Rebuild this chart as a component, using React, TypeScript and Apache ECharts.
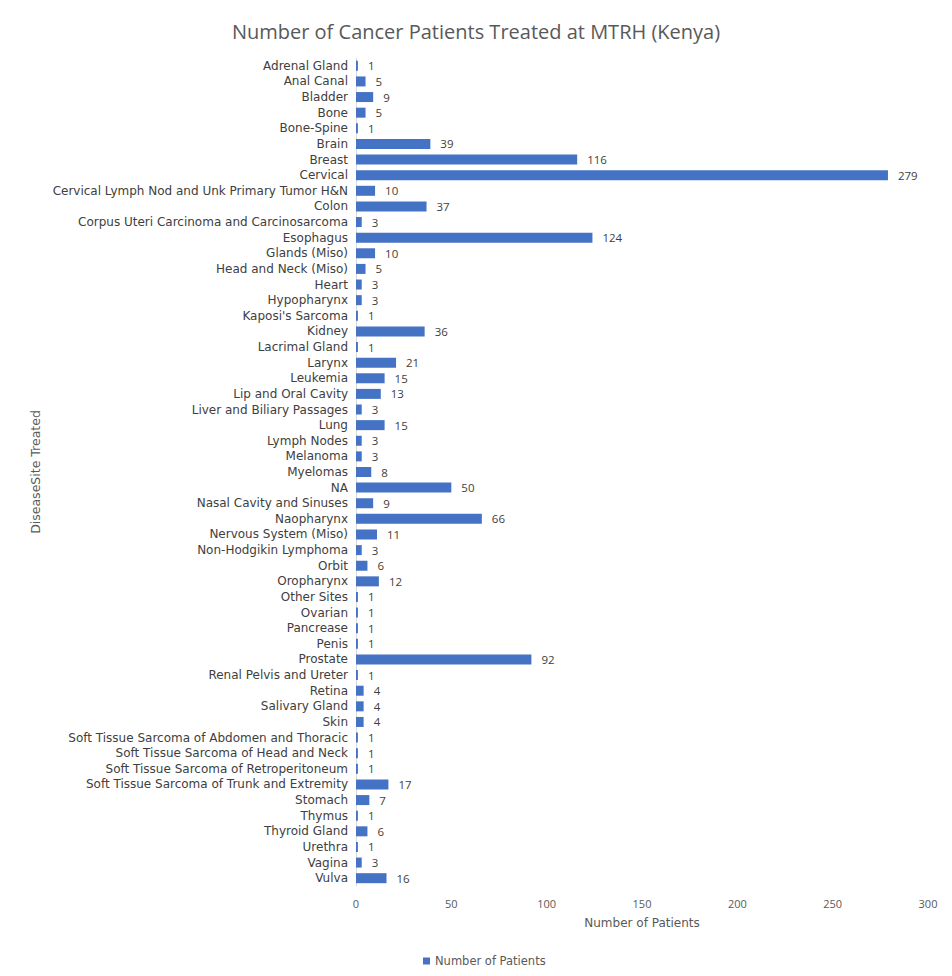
import React, { useEffect, useRef } from "react";
import * as echarts from "echarts";

const categories = [
  "Adrenal Gland", "Anal Canal", "Bladder", "Bone", "Bone-Spine", "Brain", "Breast", "Cervical",
  "Cervical Lymph Nod and Unk Primary Tumor H&N", "Colon", "Corpus Uteri Carcinoma and Carcinosarcoma",
  "Esophagus", "Glands (Miso)", "Head and Neck (Miso)", "Heart", "Hypopharynx", "Kaposi's Sarcoma",
  "Kidney", "Lacrimal Gland", "Larynx", "Leukemia", "Lip and Oral Cavity", "Liver and Biliary Passages",
  "Lung", "Lymph Nodes", "Melanoma", "Myelomas", "NA", "Nasal Cavity and Sinuses", "Naopharynx",
  "Nervous System (Miso)", "Non-Hodgikin Lymphoma", "Orbit", "Oropharynx", "Other Sites", "Ovarian",
  "Pancrease", "Penis", "Prostate", "Renal Pelvis and Ureter", "Retina", "Salivary Gland", "Skin",
  "Soft Tissue Sarcoma of Abdomen and Thoracic", "Soft Tissue Sarcoma of Head and Neck",
  "Soft Tissue Sarcoma of Retroperitoneum", "Soft Tissue Sarcoma of Trunk and Extremity", "Stomach",
  "Thymus", "Thyroid Gland", "Urethra", "Vagina", "Vulva",
];

const patients = [
  1, 5, 9, 5, 1, 39, 116, 279, 10, 37, 3, 124, 10, 5, 3, 3, 1, 36, 1, 21, 15, 13, 3, 15, 3, 3, 8, 50,
  9, 66, 11, 3, 6, 12, 1, 1, 1, 1, 92, 1, 4, 4, 4, 1, 1, 1, 17, 7, 1, 6, 1, 3, 16,
];

const xTicks = [0, 50, 100, 150, 200, 250, 300];

export default function App() {
  const ref = useRef<HTMLDivElement>(null);
  useEffect(() => {
    const chart = echarts.init(ref.current!, null, { renderer: "svg" });
    const font = "'Open Sans', 'Liberation Sans', sans-serif";
    const wide = "'DejaVu Sans', 'Open Sans', sans-serif";
    chart.setOption({
      animation: false,
      backgroundColor: "#ffffff",
      textStyle: { fontFamily: font },
      title: {
        text: "Number of Cancer Patients Treated at MTRH (Kenya)",
        left: "center",
        top: 16,
        textStyle: { fontSize: 20, fontWeight: "normal", color: "#595959", fontFamily: font },
      },
      graphic: [
        {
          type: "rect",
          shape: { x: 5, y: 7, width: 960, height: 990 },
          style: { fill: "none", stroke: "#d9d9d9", lineWidth: 2 },
          silent: true,
        },
      ],
      legend: {
        bottom: 4,
        left: 418,
        itemWidth: 7,
        itemHeight: 7,
        itemGap: 4,
        icon: "rect",
        textStyle: { fontSize: 11.5, color: "#595959", fontFamily: wide },
        data: ["Number of Patients"],
      },
      grid: { left: 356, right: 24, top: 58, bottom: 90, containLabel: false },
      xAxis: {
        type: "value",
        min: xTicks[0],
        max: xTicks[xTicks.length - 1],
        interval: 50,
        name: "Number of Patients",
        nameLocation: "middle",
        nameGap: 31,
        nameTextStyle: { fontSize: 12, color: "#595959", fontFamily: wide },
        axisLine: { show: false },
        axisTick: { show: false },
        splitLine: { show: false },
        axisLabel: { fontSize: 11, color: "#595959", margin: 12 },
      },
      yAxis: {
        type: "category",
        data: categories,
        inverse: true,
        name: "DiseaseSite Treated",
        nameLocation: "middle",
        nameGap: 314,
        nameRotate: 90,
        nameTextStyle: { fontSize: 12.5, color: "#595959", fontFamily: wide },
        axisLine: { show: true, lineStyle: { color: "#d9d9d9" } },
        axisTick: { show: false },
        axisLabel: { fontSize: 12, color: "#404040", margin: 8, interval: 0, fontFamily: wide },
      },
      series: [
        {
          name: "Number of Patients",
          type: "bar",
          data: patients,
          barCategoryGap: "36%",
          itemStyle: { color: "#4472C4" },
          label: {
            show: true,
            position: "right",
            distance: 10,
            fontSize: 11.5,
            color: "#404040",
          },
        },
      ],
    });
    return () => chart.dispose();
  }, []);
  return <div ref={ref} style={{ width: 952, height: 976, margin: -8 }} />;
}
